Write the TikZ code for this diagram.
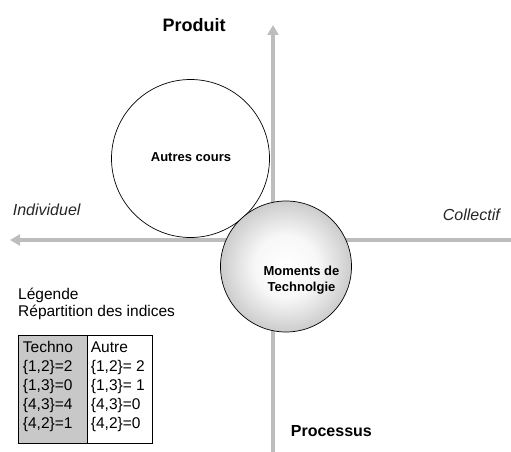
\documentclass[tikz,border=0pt]{standalone}
\usepackage{fontspec}
\setmainfont{Liberation Sans}
\usetikzlibrary{arrows.meta}
\definecolor{axisgray}{HTML}{BDBDBD}
\definecolor{cellgray}{HTML}{C8C8C8}
\pgfdeclareradialshading{momshade}{\pgfpointorigin}{color(0bp)=(white); color(12bp)=(white!97!black); color(19bp)=(white!88!black); color(25bp)=(white!80!black); color(50bp)=(white!80!black)}
\begin{document}
\begin{tikzpicture}[x=1pt,y=-1pt,
  axis/.style={draw=axisgray,line width=4.5pt,-{Triangle[width=11pt,length=10pt]}},
  lbl/.style={inner sep=0pt,anchor=base west},
  bigbold/.style={lbl,font=\bfseries\fontsize{18}{20}\selectfont},
  medbold/.style={lbl,font=\bfseries\fontsize{16}{18}\selectfont},
  ital/.style={lbl,font=\itshape\fontsize{16}{18}\selectfont,text=black!85},
  circbold/.style={inner sep=0pt,anchor=base,font=\bfseries\fontsize{13}{15}\selectfont},
  legend/.style={lbl,font=\fontsize{15.5}{17}\selectfont},
  cell/.style={draw=black,line width=0.8pt,anchor=north west,inner sep=0pt,minimum height=108pt}]
\useasboundingbox (0,0) rectangle (511,452);
% axes
\coordinate (vb) at (273,452);
\coordinate (vt) at (273,25);
\coordinate (hr) at (511,240);
\coordinate (hl) at (10,240);
\draw[axis] (vb) -- (vt);
\draw[axis] (hr) -- (hl);
% circles
\node[circle,draw=black,line width=0.7pt,fill=white,minimum size=158pt,inner sep=0pt] (autres) at (190.5,158.5) {};
\node[circbold] (autreslbl) at (191,161.7) {Autres cours};
\node[circle,draw=black,line width=0.7pt,shading=momshade,minimum size=131pt,inner sep=0pt] (moments) at (286,266.5) {};
\node[circbold] (mom1) at (301.5,275) {Moments de};
\node[circbold] (mom2) at (301.5,291.7) {Technolgie};
% axis labels
\node[bigbold] (produit) at (162.3,31.7) {Produit};
\node[medbold] (processus) at (290.7,436.7) {Processus};
\node[ital] (indiv) at (12.7,215.7) {Individuel};
\node[ital] (coll) at (442.7,220) {Collectif};
% legend
\node[legend] (leg1) at (18,299) {Légende};
\node[legend] (leg2) at (18,316.7) {Répartition des indices};
\node[cell,fill=cellgray,minimum width=69pt] (techcell) at (18,335) {};
\node[cell,fill=white,minimum width=65pt] (autrecell) at (87,335) {};
\node[legend] (t0) at (22.7,352) {Techno};
\node[legend] (t1) at (22.7,371) {\{1,2\}=2};
\node[legend] (t2) at (22.7,390) {\{1,3\}=0};
\node[legend] (t3) at (22.7,409) {\{4,3\}=4};
\node[legend] (t4) at (22.7,428) {\{4,2\}=1};
\node[legend] (a0) at (90.7,352) {Autre};
\node[legend] (a1) at (90.7,371) {\{1,2\}= 2};
\node[legend] (a2) at (90.7,390) {\{1,3\}= 1};
\node[legend] (a3) at (90.7,409) {\{4,3\}=0};
\node[legend] (a4) at (90.7,428) {\{4,2\}=0};
\end{tikzpicture}
\end{document}
